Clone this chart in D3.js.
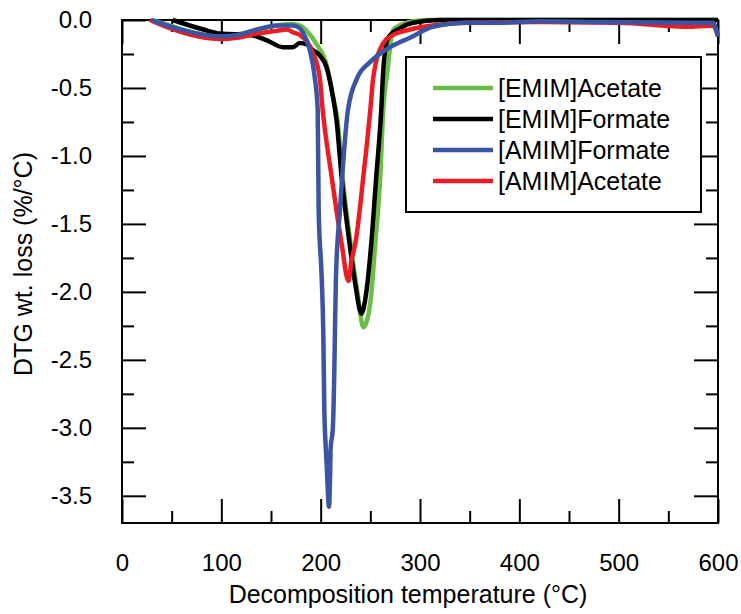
<!DOCTYPE html>
<html>
<head>
<meta charset="utf-8">
<script src="https://cdn.jsdelivr.net/npm/d3@7"></script>
<style>
  body { margin: 0; background: #fff; }
  text { font-family: "Liberation Sans", Arial, sans-serif; fill: #000; }
</style>
</head>
<body>
<div id="chart"></div>
<script>
// values: temperature (°C) and DTG (%/°C)
var emimAcetateT = [30, 48, 70, 99, 120, 136, 156, 170, 179, 186, 196, 206, 212, 217, 222, 230, 237, 243, 247, 250, 255, 260, 263, 267, 273, 287, 297, 310, 400, 500, 600];
var emimAcetateV = [0, -0.04, -0.09, -0.12, -0.1, -0.07, -0.04, -0.03, -0.04, -0.08, -0.18, -0.33, -0.55, -0.74, -1.15, -1.64, -2.0, -2.26, -2.2, -2.08, -1.64, -1.15, -0.66, -0.39, -0.07, -0.02, -0.005, 0, 0, 0, 0];

var emimFormateT = [51, 82, 99, 129, 146, 162, 172, 179, 186, 192, 199, 206, 212, 216, 221, 229, 235, 241, 246, 251, 256, 261, 263, 268, 280, 293, 320, 400, 500, 600];
var emimFormateV = [0, -0.07, -0.1, -0.11, -0.15, -0.2, -0.2, -0.17, -0.18, -0.22, -0.26, -0.35, -0.55, -0.74, -1.15, -1.64, -1.95, -2.16, -2.0, -1.64, -1.15, -0.66, -0.37, -0.13, -0.06, -0.02, 0, 0, 0, 0];

var amimFormateT = [30, 50, 99, 116, 136, 156, 172, 179, 182, 189, 194, 197, 198, 201, 202.6, 203.7, 205.1, 206.1, 208.4, 209.4, 210.1, 212.1, 213.7, 214.4, 215.4, 219.4, 227.5, 236.6, 249.7, 269.8, 289.9, 313, 347, 380, 421, 481, 572, 595, 600];
var amimFormateV = [0, -0.05, -0.12, -0.11, -0.07, -0.04, -0.04, -0.06, -0.09, -0.22, -0.42, -0.66, -1.4, -1.89, -2.28, -2.87, -3.14, -3.28, -3.58, -3.38, -3.14, -3.02, -2.6, -2.28, -1.89, -1.4, -0.66, -0.43, -0.31, -0.2, -0.13, -0.05, -0.02, -0.02, -0.01, -0.015, -0.02, -0.02, -0.12];

var amimAcetateT = [28, 48, 99, 116, 136, 156, 166, 172, 179, 192, 199, 202, 211, 221, 228, 231, 235, 243, 250, 253, 263, 273, 290, 313, 347, 421, 500, 572, 595, 600];
var amimAcetateV = [0, -0.06, -0.14, -0.13, -0.1, -0.08, -0.07, -0.09, -0.11, -0.24, -0.42, -0.66, -1.15, -1.64, -1.92, -1.77, -1.64, -1.15, -0.66, -0.42, -0.17, -0.11, -0.07, -0.04, -0.02, -0.015, -0.02, -0.05, -0.04, -0.12];

var seriesNames = ["[EMIM]Acetate", "[EMIM]Formate", "[AMIM]Formate", "[AMIM]Acetate"];

var xTicks = [0, 100, 200, 300, 400, 500, 600];
var xMinorTicks = [50, 150, 250, 350, 450, 550];
var yTicks = [0, -0.5, -1.0, -1.5, -2.0, -2.5, -3.0, -3.5];
var yMinorTicks = [-0.25, -0.75, -1.25, -1.75, -2.25, -2.75, -3.25];

var colors = ["#6abd45", "#000000", "#3b55a5", "#ec1c24"];

// build series objects for drawing (blue last so it sits on top)
var series = [
    {name: seriesNames[0], t: emimAcetateT, v: emimAcetateV, color: colors[0]},
    {name: seriesNames[1], t: emimFormateT, v: emimFormateV, color: colors[1]},
    {name: seriesNames[3], t: amimAcetateT, v: amimAcetateV, color: colors[3]},
    {name: seriesNames[2], t: amimFormateT, v: amimFormateV, color: colors[2]}
];

var width = 741, height = 614;
// plot frame (window.top is reserved, so no "top" here)
var frame = {left: 122, right: 718, top: 20, bottom: 523};

var x = d3.scaleLinear().domain([0, 600]).range([frame.left, frame.right]);
var y = d3.scaleLinear().domain([-3.7, 0]).range([frame.bottom, frame.top]);

var svg = d3.select("#chart").append("svg")
    .attr("width", width)
    .attr("height", height);

function styleAxis(g) {
    g.select(".domain").remove();
    g.selectAll(".tick line").attr("stroke", "#000").attr("stroke-width", 2);
    g.selectAll(".tick text").style("font-size", "24px").attr("fill", "#000");
}

var fmtX = function (d) { return d.toFixed(0); };
var fmtY = function (d) { return d.toFixed(1); };

// bottom axis (labels) + minor
svg.append("g").attr("transform", "translate(0," + frame.bottom + ")")
    .call(d3.axisBottom(x).tickValues(xTicks).tickSize(-24).tickPadding(31).tickFormat(fmtX))
    .call(styleAxis);
svg.append("g").attr("transform", "translate(0," + frame.bottom + ")")
    .call(d3.axisBottom(x).tickValues(xMinorTicks).tickSize(-12).tickFormat(""))
    .call(styleAxis);
// top axis
svg.append("g").attr("transform", "translate(0," + frame.top + ")")
    .call(d3.axisTop(x).tickValues(xTicks).tickSize(-24).tickFormat(""))
    .call(styleAxis);
svg.append("g").attr("transform", "translate(0," + frame.top + ")")
    .call(d3.axisTop(x).tickValues(xMinorTicks).tickSize(-12).tickFormat(""))
    .call(styleAxis);
// left axis
svg.append("g").attr("transform", "translate(" + frame.left + ",0)")
    .call(d3.axisLeft(y).tickValues(yTicks).tickSize(-24).tickPadding(30).tickFormat(fmtY))
    .call(styleAxis);
svg.append("g").attr("transform", "translate(" + frame.left + ",0)")
    .call(d3.axisLeft(y).tickValues(yMinorTicks).tickSize(-12).tickFormat(""))
    .call(styleAxis);
// right axis
svg.append("g").attr("transform", "translate(" + frame.right + ",0)")
    .call(d3.axisRight(y).tickValues(yTicks).tickSize(-24).tickFormat(""))
    .call(styleAxis);
svg.append("g").attr("transform", "translate(" + frame.right + ",0)")
    .call(d3.axisRight(y).tickValues(yMinorTicks).tickSize(-12).tickFormat(""))
    .call(styleAxis);

// frame
svg.append("rect")
    .attr("x", frame.left).attr("y", frame.top)
    .attr("width", frame.right - frame.left).attr("height", frame.bottom - frame.top)
    .attr("fill", "none").attr("stroke", "#000").attr("stroke-width", 2);

// curves
var line = d3.line()
    .x(function (d) { return x(d[0]); })
    .y(function (d) { return y(d[1]); })
    .curve(d3.curveMonotoneX);

series.forEach(function (s) {
    var pts = s.t.map(function (t, i) { return [t, s.v[i]]; });
    svg.append("path")
        .datum(pts)
        .attr("fill", "none")
        .attr("stroke", s.color)
        .attr("stroke-width", 4.5)
        .attr("stroke-linejoin", "round")
        .attr("d", line);
});

// axis titles
svg.append("text")
    .attr("x", 408).attr("y", 603)
    .attr("text-anchor", "middle")
    .style("font-size", "25px")
    .text("Decomposition temperature (°C)");

svg.append("text")
    .attr("transform", "translate(32,264) rotate(-90)")
    .attr("text-anchor", "middle")
    .style("font-size", "25px")
    .text("DTG wt. loss (%/°C)");

// legend
var legend = svg.append("g");
legend.append("rect")
    .attr("x", 406).attr("y", 57)
    .attr("width", 295).attr("height", 155)
    .attr("fill", "#fff").attr("stroke", "#000").attr("stroke-width", 2);

seriesNames.forEach(function (name, i) {
    var ly = 88 + i * 31;
    legend.append("line")
        .attr("x1", 433).attr("x2", 493)
        .attr("y1", ly).attr("y2", ly)
        .attr("stroke", colors[i]).attr("stroke-width", 4.5);
    legend.append("text")
        .attr("x", 498).attr("y", ly)
        .attr("dy", "0.35em")
        .style("font-size", "25px")
        .text(name);
});
</script>
</body>
</html>
